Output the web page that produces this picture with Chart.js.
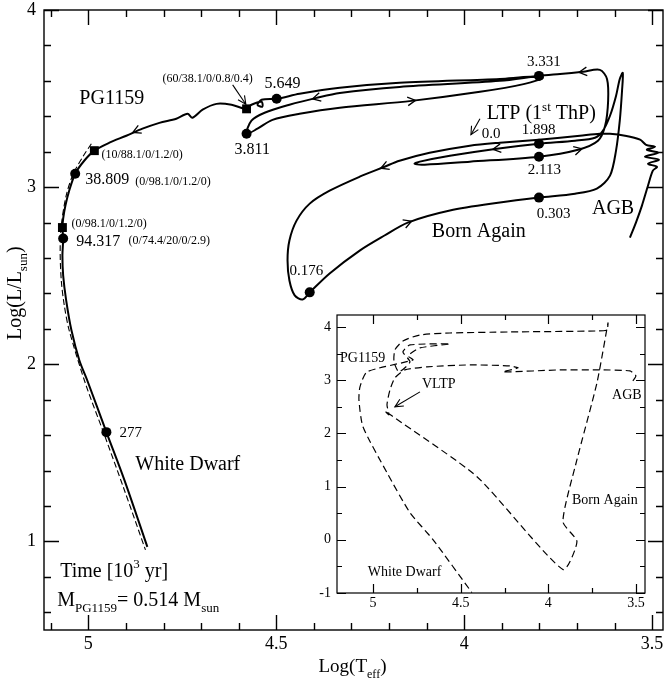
<!DOCTYPE html>
<html>
<head>
<meta charset="utf-8">
<title>Born-again LTP track</title>
<script src="https://cdn.jsdelivr.net/npm/chart.js@4.4.1/dist/chart.umd.min.js"></script>
<style>
  html, body { margin: 0; padding: 0; background: #fff; }
  #wrap { position: relative; width: 670px; height: 680px; }
  #main { position: absolute; left: 0; top: 0; }
  #inset { position: absolute; left: 290px; top: 300px; }
</style>
</head>
<body>
<div id="wrap">
  <canvas id="main" width="670" height="680"></canvas>
  <canvas id="inset" width="370" height="315"></canvas>
</div>
<script>
(function () {
  'use strict';

  const FONT = '"Liberation Serif", "Times New Roman", serif';

  // ---- main panel axes
  const mainXTicks = [5.1, 5.0, 4.9, 4.8, 4.7, 4.6, 4.5, 4.4, 4.3, 4.2, 4.1, 4.0, 3.9, 3.8, 3.7, 3.6, 3.5];
  const mainXLabels = [5, 4.5, 4, 3.5];
  const mainYTicks = [0.6, 0.8, 1, 1.2, 1.4, 1.6, 1.8, 2, 2.2, 2.4, 2.6, 2.8, 3, 3.2, 3.4, 3.6, 3.8, 4];
  const mainYLabels = [1, 2, 3, 4];

  // ---- LTP / born again track, from the AGB onwards (solid)
  const trackLogT = [
    3.559, 3.543, 3.527, 3.511, 3.498, 3.487, 3.511, 3.482, 3.519, 3.484,
    3.514, 3.492, 3.516, 3.532, 3.572, 3.612, 3.639, 3.692, 3.745, 3.801,
    3.905, 3.985, 4.092, 4.172, 4.212, 4.278, 4.358, 4.411, 4.446, 4.465,
    4.470, 4.465, 4.451, 4.430, 4.411, 4.358, 4.278, 4.212, 4.150, 4.038,
    3.905, 3.801, 3.705, 3.647, 3.612, 3.596, 3.586, 3.580, 3.578, 3.586,
    3.596, 3.612, 3.631, 3.652, 3.705, 3.801, 3.913, 4.038, 4.118, 4.132,
    4.105, 3.985, 3.801, 3.697, 3.644, 3.625, 3.617, 3.620, 3.639, 3.684,
    3.745, 3.801, 3.905, 4.172, 4.331, 4.393, 4.465, 4.531, 4.566, 4.579,
    4.550, 4.510, 4.438, 4.331, 4.140, 3.958, 3.839, 3.791, 3.825, 3.905,
    4.172, 4.331, 4.438, 4.499, 4.539, 4.550, 4.537, 4.539, 4.566, 4.579,
    4.619, 4.659, 4.696, 4.723, 4.736, 4.766, 4.811, 4.856, 4.899, 4.944,
    4.984, 5.011, 5.035, 5.051, 5.061, 5.067, 5.069, 5.067, 5.069, 5.067,
    5.059, 5.045, 5.024, 5.003, 4.952, 4.904, 4.843
  ];
  const trackLogL = [
    2.715, 2.800, 2.896, 3.008, 3.093, 3.115, 3.132, 3.155, 3.172, 3.194,
    3.211, 3.228, 3.239, 3.268, 3.290, 3.301, 3.301, 3.290, 3.279, 3.268,
    3.251, 3.234, 3.194, 3.149, 3.115, 3.059, 2.980, 2.907, 2.811, 2.699,
    2.586, 2.473, 2.389, 2.366, 2.406, 2.513, 2.642, 2.727, 2.800, 2.868,
    2.913, 2.941, 2.963, 2.992, 3.065, 3.206, 3.375, 3.544, 3.645, 3.611,
    3.515, 3.403, 3.318, 3.279, 3.262, 3.245, 3.217, 3.177, 3.144, 3.132,
    3.127, 3.144, 3.172, 3.211, 3.262, 3.346, 3.487, 3.611, 3.662, 3.651,
    3.639, 3.628, 3.600, 3.566, 3.532, 3.504, 3.465, 3.420, 3.375, 3.301,
    3.330, 3.380, 3.414, 3.448, 3.487, 3.538, 3.583, 3.617, 3.623, 3.611,
    3.589, 3.561, 3.527, 3.499, 3.493, 3.465, 3.454, 3.482, 3.465, 3.442,
    3.465, 3.470, 3.437, 3.392, 3.414, 3.386, 3.363, 3.330, 3.290, 3.251,
    3.206, 3.149, 3.076, 2.980, 2.896, 2.823, 2.772, 2.710, 2.614, 2.501,
    2.361, 2.192, 2.023, 1.910, 1.617, 1.346, 0.969
  ];

  // dashed track next to the PG1159 / white dwarf branch
  const dashLogT = [4.992, 5.013, 5.040, 5.059, 5.072, 5.075, 5.072, 5.064, 5.051, 5.008, 4.957, 4.907, 4.848];
  const dashLogL = [3.245, 3.177, 3.076, 2.952, 2.783, 2.642, 2.473, 2.332, 2.192, 1.893, 1.600, 1.307, 0.952];

  // time marks (dots) and abundance marks (squares)
  const dotLogT = [4.411, 3.801, 3.801, 3.801, 3.801, 4.579, 4.499, 5.035, 5.067, 4.952];
  const dotLogL = [2.406, 2.941, 3.245, 3.172, 3.628, 3.301, 3.499, 3.076, 2.710, 1.617];
  const squareLogT = [4.579, 4.984, 5.069];
  const squareLogL = [3.442, 3.206, 2.772];

  // direction arrows along the track (screen angle of travel, degrees)
  const arrowLogT = [4.872, 4.393, 4.140, 3.684, 3.913, 3.697, 4.212, 4.150];
  const arrowLogL = [3.318, 3.504, 3.487, 3.651, 3.217, 3.211, 3.115, 2.800];
  const arrowAngle = [156, 166, -7, 174, 172, -15, 158, -21];

  // ---- inset (VLTP) panel
  const insetXTicks = [5.0, 4.75, 4.5, 4.25, 4.0, 3.75, 3.5];
  const insetXLabels = [5, 4.5, 4, 3.5];
  const insetYTicks = [-1, -0.5, 0, 0.5, 1, 1.5, 2, 2.5, 3, 3.5, 4];
  const insetYLabels = [-1, 0, 1, 2, 3, 4];

  const vltpLogT = [
    3.518, 3.501, 3.535, 3.706, 3.934, 4.259, 4.173, 4.219, 4.447, 4.692,
    4.818, 4.875, 4.903, 4.920, 4.909, 4.932, 4.892, 4.407, 3.917, 3.837,
    3.917, 3.837, 3.723, 3.660, 3.666, 3.717, 4.219, 4.561, 4.732, 4.829,
    4.875, 4.880, 4.852, 4.789, 4.829, 4.789, 4.561, 4.732, 4.800, 4.772,
    5.034, 5.074, 5.080, 5.057, 4.920, 4.789, 4.658, 4.436
  ];
  const vltpLogL = [
    2.987, 3.081, 3.174, 3.193, 3.193, 3.156, 3.231, 3.268, 3.287, 3.250,
    3.193, 3.043, 2.818, 2.537, 2.349, 2.424, 2.330, 1.186, -0.559, -0.034,
    0.341, 1.505, 2.949, 4.075, 3.944, 3.925, 3.906, 3.887, 3.850, 3.737,
    3.568, 3.343, 3.156, 3.343, 3.531, 3.662, 3.681, 3.606, 3.456, 3.381,
    3.156, 2.874, 2.630, 2.124, 1.261, 0.510, 0.004, -0.991
  ];

  // ---- text on the panels: [text, '' | 'sub' | 'sup'] pieces
  const mainNotes = [
    { x: 5.024, y: 3.504, size: 20, parts: [['PG1159', '']] },
    { x: 4.803, y: 3.617, size: 12, parts: [['(60/38.1/0/0.8/0.4)', '']] },
    { x: 4.531, y: 3.589, size: 16, parts: [['5.649', '']] },
    { x: 4.611, y: 3.217, size: 16, parts: [['3.811', '']] },
    { x: 4.965, y: 3.189, size: 12, parts: [['(10/88.1/0/1.2/0)', '']] },
    { x: 5.008, y: 3.048, size: 16, parts: [['38.809', '']] },
    { x: 4.875, y: 3.037, size: 12, parts: [['(0/98.1/0/1.2/0)', '']] },
    { x: 5.045, y: 2.800, size: 12, parts: [['(0/98.1/0/1.2/0)', '']] },
    { x: 5.032, y: 2.699, size: 16, parts: [['94.317', '']] },
    { x: 4.893, y: 2.704, size: 12, parts: [['(0/74.4/20/0/2.9)', '']] },
    { x: 4.917, y: 1.617, size: 15, parts: [['277', '']] },
    { x: 4.875, y: 1.442, size: 20, parts: [['White Dwarf', '']] },
    { x: 5.075, y: 0.839, size: 20, parts: [['Time [10', ''], ['3', 'sup'], [' yr]', '']] },
    { x: 5.083, y: 0.670, size: 20, parts: [['M', ''], ['PG1159', 'sub'], ['= 0.514 M', ''], ['sun', 'sub']] },
    { x: 4.465, y: 2.530, size: 15, parts: [['0.176', '']] },
    { x: 3.833, y: 3.713, size: 15, parts: [['3.331', '']] },
    { x: 3.940, y: 3.420, size: 20, parts: [['LTP (1', ''], ['st', 'sup'], [' ThP)', '']] },
    { x: 3.953, y: 3.307, size: 15, parts: [['0.0', '']] },
    { x: 3.847, y: 3.330, size: 15, parts: [['1.898', '']] },
    { x: 3.831, y: 3.104, size: 15, parts: [['2.113', '']] },
    { x: 3.807, y: 2.851, size: 15, parts: [['0.303', '']] },
    { x: 3.660, y: 2.885, size: 20, parts: [['AGB', '']] },
    { x: 4.086, y: 2.755, size: 20, parts: [['Born Again', '']] }
  ];
  const mainPointers = [
    { x1: 4.616, y1: 3.577, x2: 4.581, y2: 3.468 },
    { x1: 3.958, y1: 3.386, x2: 3.982, y2: 3.296 }
  ];
  const insetNotes = [
    { x: 5.188, y: 3.437, size: 14, parts: [['PG1159', '']] },
    { x: 4.721, y: 2.949, size: 14, parts: [['VLTP', '']] },
    { x: 3.637, y: 2.724, size: 14, parts: [['AGB', '']] },
    { x: 3.865, y: 0.754, size: 14, parts: [['Born Again', '']] },
    { x: 5.029, y: -0.597, size: 14, parts: [['White Dwarf', '']] }
  ];
  const insetPointers = [
    { x1: 4.732, y1: 2.780, x2: 4.875, y2: 2.499 }
  ];

  function zip(xs, ys) {
    return xs.map((x, i) => ({ x: x, y: ys[i] }));
  }

  function hasValue(list, v) {
    return list.some(l => Math.abs(l - v) < 1e-6);
  }

  function drawRich(ctx, x, y, parts, size) {
    const small = Math.round(size * 0.65);
    const base = y + size * 0.33;
    let cx = x;
    ctx.textBaseline = 'alphabetic';
    ctx.textAlign = 'left';
    parts.forEach(p => {
      const s = p[1] ? small : size;
      ctx.font = s + 'px ' + FONT;
      let dy = 0;
      if (p[1] === 'sub') dy = size * 0.3;
      if (p[1] === 'sup') dy = -size * 0.42;
      ctx.fillText(p[0], cx, base + dy);
      cx += ctx.measureText(p[0]).width;
    });
  }

  function openHead(ctx, x, y, ang, len, spread) {
    ctx.beginPath();
    ctx.moveTo(x - len * Math.cos(ang - spread), y - len * Math.sin(ang - spread));
    ctx.lineTo(x, y);
    ctx.lineTo(x - len * Math.cos(ang + spread), y - len * Math.sin(ang + spread));
    ctx.stroke();
  }

  // inward ticks on all four sides plus the frame
  const frameTicks = {
    id: 'frameTicks',
    afterDatasetsDraw(chart, args, o) {
      const { ctx, chartArea: a, scales: { x, y } } = chart;
      ctx.save();
      ctx.strokeStyle = '#000';
      ctx.lineWidth = o.width;
      ctx.beginPath();
      x.ticks.forEach(t => {
        const px = Math.round(x.getPixelForValue(t.value)) + 0.5;
        const len = hasValue(o.xLabels, t.value) ? o.major : o.minor;
        ctx.moveTo(px, a.bottom); ctx.lineTo(px, a.bottom - len);
        ctx.moveTo(px, a.top); ctx.lineTo(px, a.top + len);
      });
      y.ticks.forEach(t => {
        const py = Math.round(y.getPixelForValue(t.value)) + 0.5;
        const len = hasValue(o.yLabels, t.value) ? o.major : o.minor;
        ctx.moveTo(a.left, py); ctx.lineTo(a.left + len, py);
        ctx.moveTo(a.right, py); ctx.lineTo(a.right - len, py);
      });
      ctx.stroke();
      ctx.strokeRect(a.left, a.top, a.right - a.left, a.bottom - a.top);
      ctx.restore();
    }
  };

  // notes, pointer arrows, travel arrows and axis titles
  const annotate = {
    id: 'annotate',
    afterDraw(chart, args, o) {
      const { ctx, chartArea: a, scales: { x, y } } = chart;
      ctx.save();
      ctx.fillStyle = '#000';
      ctx.strokeStyle = '#000';
      (o.notes || []).forEach(n => {
        drawRich(ctx, x.getPixelForValue(n.x), y.getPixelForValue(n.y), n.parts, n.size);
      });
      ctx.lineWidth = 1.1;
      (o.pointers || []).forEach(p => {
        const x1 = x.getPixelForValue(p.x1), y1 = y.getPixelForValue(p.y1);
        const x2 = x.getPixelForValue(p.x2), y2 = y.getPixelForValue(p.y2);
        ctx.beginPath();
        ctx.moveTo(x1, y1);
        ctx.lineTo(x2, y2);
        ctx.stroke();
        openHead(ctx, x2, y2, Math.atan2(y2 - y1, x2 - x1), 9, 0.45);
      });
      ctx.lineWidth = 1.3;
      (o.arrowX || []).forEach((ax, i) => {
        const ang = o.arrowA[i] * Math.PI / 180;
        const px = x.getPixelForValue(ax) + 4 * Math.cos(ang);
        const py = y.getPixelForValue(o.arrowY[i]) + 4 * Math.sin(ang);
        openHead(ctx, px, py, ang, 9, 0.5);
      });
      if (o.titles) {
        const cx = (a.left + a.right) / 2 - 35;
        drawRich(ctx, cx, 666, [['Log(T', ''], ['eff', 'sub'], [')', '']], 19);
        ctx.translate(14, 340);
        ctx.rotate(-Math.PI / 2);
        drawRich(ctx, 0, 0, [['Log(L/L', ''], ['sun', 'sub'], [')', '']], 20);
      }
      ctx.restore();
    }
  };

  function axis(min, max, reverse, tickVals, labelVals, size, pad, fitKey, fitSize) {
    return {
      type: 'linear',
      min: min,
      max: max,
      reverse: reverse,
      grid: { display: false, drawTicks: false },
      border: { display: false },
      afterBuildTicks: s => { s.ticks = tickVals.map(v => ({ value: v })); },
      afterFit: s => {
        s[fitKey] = fitSize;
        // let the layout padding alone decide where the frame sits
        s.paddingTop = 0;
        s.paddingBottom = 0;
      },
      ticks: {
        autoSkip: false,
        maxRotation: 0,
        padding: pad,
        color: '#000',
        font: { family: FONT, size: size, lineHeight: 1 },
        callback: v => hasValue(labelVals, v) ? String(+v.toFixed(2)) : ''
      }
    };
  }

  const common = {
    responsive: false,
    animation: false,
    events: [],
    plugins: { legend: { display: false }, tooltip: { enabled: false } }
  };

  new Chart(document.getElementById('main'), {
    type: 'scatter',
    data: {
      datasets: [
        {
          data: zip(dashLogT, dashLogL), showLine: true, borderColor: '#000',
          borderWidth: 1.1, borderDash: [6, 3], pointRadius: 0, tension: 0.3
        },
        {
          data: zip(trackLogT, trackLogL), showLine: true, borderColor: '#000',
          borderWidth: 2, pointRadius: 0, tension: 0.3
        },
        {
          data: zip(dotLogT, dotLogL), pointStyle: 'circle', pointRadius: 5,
          backgroundColor: '#000', borderColor: '#000', borderWidth: 0
        },
        {
          data: zip(squareLogT, squareLogL), pointStyle: 'rect', pointRadius: 6.3,
          backgroundColor: '#000', borderColor: '#000', borderWidth: 0
        }
      ]
    },
    options: Object.assign({}, common, {
      layout: { padding: { left: 0, top: 10, right: 7, bottom: 0 } },
      scales: {
        x: axis(3.471, 5.118, true, mainXTicks, mainXLabels, 18, 5, 'height', 50),
        y: axis(0.5, 4, false, mainYTicks, mainYLabels, 18, 8, 'width', 44)
      },
      plugins: Object.assign({}, common.plugins, {
        frameTicks: { width: 1.4, major: 15, minor: 7, xLabels: mainXLabels, yLabels: mainYLabels },
        annotate: {
          notes: mainNotes, pointers: mainPointers, titles: true,
          arrowX: arrowLogT, arrowY: arrowLogL, arrowA: arrowAngle
        }
      })
    }),
    plugins: [frameTicks, annotate]
  });

  new Chart(document.getElementById('inset'), {
    type: 'scatter',
    data: {
      datasets: [
        {
          data: zip(vltpLogT, vltpLogL), showLine: true, borderColor: '#000',
          borderWidth: 1.2, borderDash: [7, 4], pointRadius: 0, tension: 0.2
        }
      ]
    },
    options: Object.assign({}, common, {
      layout: { padding: { left: 0, top: 15, right: 15, bottom: 0 } },
      scales: {
        x: axis(3.449, 5.205, true, insetXTicks, insetXLabels, 14, 3, 'height', 22),
        y: axis(-1, 4.225, false, insetYTicks, insetYLabels, 14, 6, 'width', 47)
      },
      plugins: Object.assign({}, common.plugins, {
        frameTicks: { width: 1.2, major: 9, minor: 5, xLabels: insetXLabels, yLabels: insetYLabels },
        annotate: { notes: insetNotes, pointers: insetPointers, titles: false }
      })
    }),
    plugins: [frameTicks, annotate]
  });
})();
</script>
</body>
</html>
